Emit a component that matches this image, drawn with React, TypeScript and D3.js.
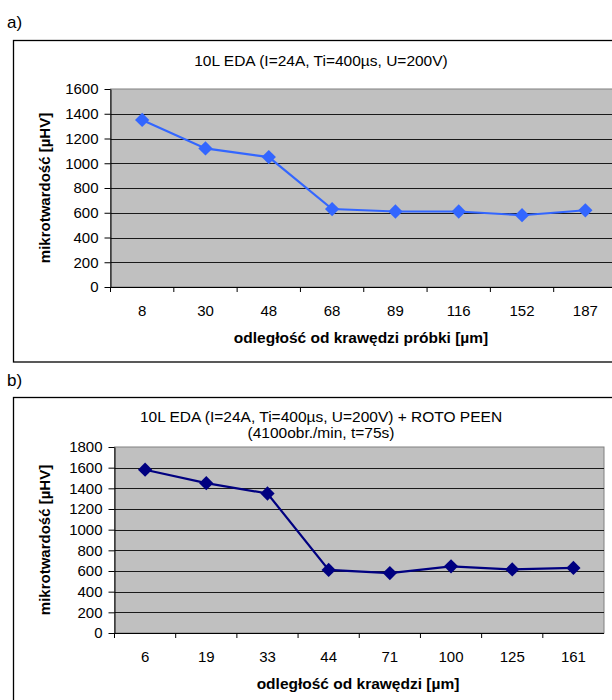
import React, { useEffect, useRef } from 'react';
import * as d3 from 'd3';

// panel a)
const distA = ['8', '30', '48', '68', '89', '116', '152', '187'];
const hardA = [1350, 1120, 1050, 630, 610, 610, 580, 620];
const yTicksA = [0, 200, 400, 600, 800, 1000, 1200, 1400, 1600];

// panel b)
const distB = ['6', '19', '33', '44', '71', '100', '125', '161'];
const hardB = [1580, 1450, 1350, 610, 580, 645, 615, 630];
const yTicksB = [0, 200, 400, 600, 800, 1000, 1200, 1400, 1600, 1800];

const FONT = '"Liberation Sans", Arial, Helvetica, sans-serif';

function drawPanel(g, opts) {
  const { cats, vals, ticks, left, right, top, bottom, color, titles, titleY, xTitle, xTitleX } = opts;
  const x = d3.scaleBand().domain(cats).range([left, right]);
  const y = d3.scaleLinear().domain([0, d3.max(ticks)]).range([bottom, top]);

  g.append('rect')
    .attr('x', left).attr('y', top)
    .attr('width', right - left).attr('height', bottom - top)
    .attr('fill', '#c0c0c0')
    .attr('stroke', '#808080').attr('stroke-width', 1);

  // gridlines
  g.selectAll('line.grid')
    .data(ticks.filter(t => t > 0 && t < d3.max(ticks)))
    .join('line')
    .attr('class', 'grid')
    .attr('x1', left).attr('x2', right)
    .attr('y1', d => Math.round(y(d)) + 0.5).attr('y2', d => Math.round(y(d)) + 0.5)
    .attr('stroke', '#1a1a1a').attr('stroke-width', 1.2);

  // y axis
  const yAxis = d3.axisLeft(y).tickValues(ticks).tickSize(6).tickPadding(6)
    .tickSizeOuter(0).tickFormat(d3.format('d'));
  const ya = g.append('g').attr('transform', `translate(${left},0)`).call(yAxis);
  ya.select('.domain').attr('stroke', '#000');
  ya.selectAll('.tick line').attr('stroke', '#000');
  ya.selectAll('text').attr('font-family', FONT).attr('font-size', 15).attr('fill', '#000');

  // x axis - ticks on band edges
  g.append('line')
    .attr('x1', left).attr('x2', right).attr('y1', bottom + 0.5).attr('y2', bottom + 0.5)
    .attr('stroke', '#000');
  g.selectAll('line.xtick')
    .data(cats)
    .join('line')
    .attr('class', 'xtick')
    .attr('x1', d => x(d)).attr('x2', d => x(d))
    .attr('y1', bottom).attr('y2', bottom + 5)
    .attr('stroke', '#000');
  g.selectAll('text.xlab')
    .data(cats)
    .join('text')
    .attr('class', 'xlab')
    .attr('x', d => x(d) + x.bandwidth() / 2)
    .attr('y', bottom + 29)
    .attr('text-anchor', 'middle')
    .attr('font-family', FONT).attr('font-size', 15)
    .text(d => d);

  // series line + diamonds
  const line = d3.line()
    .x((_, i) => x(cats[i]) + x.bandwidth() / 2)
    .y(d => y(d));
  g.append('path')
    .datum(vals)
    .attr('d', line)
    .attr('fill', 'none')
    .attr('stroke', color).attr('stroke-width', 2.2);
  g.selectAll('path.pt')
    .data(vals)
    .join('path')
    .attr('class', 'pt')
    .attr('d', d3.symbol(d3.symbolDiamond2, 130))
    .attr('transform', (d, i) => `translate(${x(cats[i]) + x.bandwidth() / 2},${y(d)})`)
    .attr('fill', color);

  // titles
  titles.forEach((t, i) => {
    g.append('text')
      .attr('x', 321).attr('y', titleY + i * 16)
      .attr('text-anchor', 'middle')
      .attr('font-family', FONT).attr('font-size', 15.5)
      .text(t);
  });
  g.append('text')
    .attr('x', xTitleX).attr('y', bottom + 56)
    .attr('text-anchor', 'middle')
    .attr('font-family', FONT).attr('font-size', 15.5).attr('font-weight', 'bold')
    .text(xTitle);
  g.append('text')
    .attr('transform', `translate(50,${(top + bottom) / 2}) rotate(-90)`)
    .attr('text-anchor', 'middle')
    .attr('font-family', FONT).attr('font-size', 15).attr('font-weight', 'bold')
    .text('mikrotwardość [µHV]');
}

export default function App() {
  const svgRef = useRef(null);

  useEffect(() => {
    const svg = d3.select(svgRef.current);
    svg.selectAll('*').remove();

    svg.append('rect').attr('width', 612).attr('height', 700).attr('fill', '#fff');

    // panel letters
    svg.append('text').attr('x', 7).attr('y', 28)
      .attr('font-family', FONT).attr('font-size', 17).text('a)');
    svg.append('text').attr('x', 7).attr('y', 386)
      .attr('font-family', FONT).attr('font-size', 17).text('b)');

    // chart frames (run off the right edge)
    svg.append('rect').attr('x', 13.5).attr('y', 40.5).attr('width', 640).attr('height', 321.5)
      .attr('fill', '#fff').attr('stroke', '#000').attr('stroke-width', 1.3);
    svg.append('rect').attr('x', 13.5).attr('y', 397.5).attr('width', 640).attr('height', 340)
      .attr('fill', '#fff').attr('stroke', '#000').attr('stroke-width', 1.3);

    drawPanel(svg.append('g'), {
      cats: distA, vals: hardA, ticks: yTicksA,
      left: 110.5, right: 617, top: 89, bottom: 287,
      color: '#3366ff',
      titles: ['10L EDA (I=24A, Ti=400µs, U=200V)'], titleY: 66,
      xTitle: 'odległość od krawędzi próbki [µm]', xTitleX: 361,
    });
    drawPanel(svg.append('g'), {
      cats: distB, vals: hardB, ticks: yTicksB,
      left: 114.5, right: 604, top: 447, bottom: 633,
      color: '#000080',
      titles: ['10L EDA (I=24A, Ti=400µs, U=200V) + ROTO PEEN', '(4100obr./min, t=75s)'], titleY: 422,
      xTitle: 'odległość od krawędzi [µm]', xTitleX: 358,
    });
  }, []);

  return (
    <svg ref={svgRef} width={612} height={700}
      style={{ position: 'absolute', left: 0, top: 0, display: 'block' }} />
  );
}
